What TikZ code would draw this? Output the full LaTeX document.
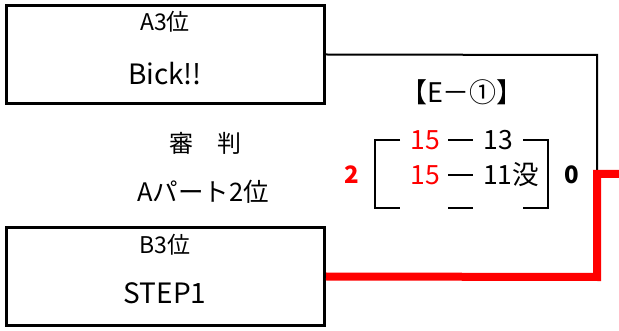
\documentclass[tikz,border=0pt]{standalone}
\usepackage{fontspec}
\setmainfont{Noto Sans CJK JP}
\begin{document}
\begin{tikzpicture}[x=1pt,y=-1pt,
  teambox/.style={draw,line width=3pt,minimum width=318pt,minimum height=98pt,inner sep=0pt},
  seed/.style={font=\fontsize{23}{26}\selectfont},
  team/.style={font=\fontsize{28}{32}\selectfont},
  note/.style={font=\fontsize{24}{28}\selectfont},
  score/.style={font=\fontsize{26.5}{30}\selectfont,inner sep=0pt},
  win/.style={draw=red,line width=8pt},
  lose/.style={draw=black,line width=2pt},
  bar/.style={line width=2.5pt}]

\useasboundingbox (0,0) rectangle (619,331);

% teams
\node[teambox] (boxA) at (165.5,54.5) {};
\node[teambox] (boxB) at (165.5,276.5) {};
\node[seed] (seedA) at (165,22) {A3位};
\node[team] (teamA) at (165,74) {Bick!!};
\node[seed] (seedB) at (165,245) {B3位};
\node[team] (teamB) at (165,293) {STEP1};

% referee
\node[note] (ref) at (205,143) {審　判};
\node[note,font=\fontsize{25.5}{29}\selectfont] (refteam) at (203,192) {Aパート2位};

% match
\node[note,font=\fontsize{27}{30}\selectfont] (match) at (462,92) {【E－①】};
\draw[bar] (400,140) -- (375,140) -- (375,208) -- (400,208);
\draw[bar] (523,140) -- (548,140) -- (548,208) -- (523,208);
\foreach \y in {140,175,208}{
\draw[bar] (448,\y) -- (473,\y);}

\node[score,red] (s1a) at (425,140) {15};
\node[score] (s1b) at (498,140) {13};
\node[score,red] (s2a) at (425,175) {15};
\node[score] (s2b) at (511,175) {11没};
\node[score,red,font=\fontsize{24}{28}\selectfont\bfseries] (setA) at (352,175) {2};
\node[score,font=\fontsize{24}{28}\selectfont\bfseries] (setB) at (572,175) {0};

% lines
\coordinate (turnA) at (597,55);
\coordinate (endA) at (597,170);
\draw[lose] (boxA.east) -- (turnA) -- (endA);
\coordinate (turnB) at (597,277);
\coordinate (topB) at (597,174);
\coordinate (out) at (625,174);
\draw[win] (boxB.east) -- (turnB) -- (topB) -- (out);

\end{tikzpicture}
\end{document}
